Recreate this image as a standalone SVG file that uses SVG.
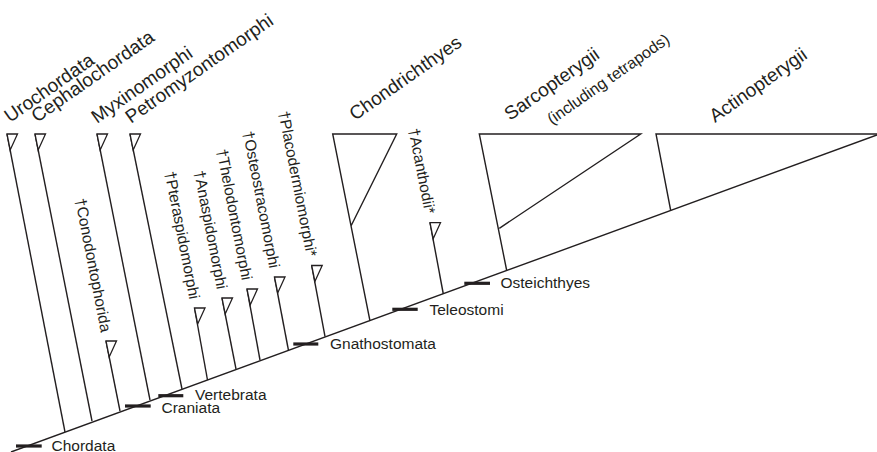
<svg xmlns="http://www.w3.org/2000/svg" width="877" height="452" viewBox="0 0 877 452">
<defs>
<style>
.ln{stroke:#231f20;stroke-width:1.4;fill:none;stroke-linecap:butt}
.tri{stroke:#231f20;stroke-width:1.3;fill:#fff;stroke-linejoin:miter}
.bar{stroke:#231f20;stroke-width:3.2}
text{font-family:"Liberation Sans",Arial,sans-serif;fill:#231f20}
.top{font-size:19px}
.sub{font-size:16px}
.vert{font-size:15.5px;text-anchor:end}
.hz{font-size:15.5px}
</style>
<path id="flag" d="M0,0 H10.5 L3.2,16 Z" class="tri"/>
</defs>
<rect width="877" height="452" fill="#fff"/>
<g id="connectors">
<line class="ln" x1="11" y1="452" x2="877" y2="135"/>
</g>
<g id="urochordata">
<line class="ln" x1="7" y1="134" x2="65" y2="432"/>
<use href="#flag" x="7" y="134"/>
<text class="top" transform="translate(10,123) rotate(-35)">Urochordata</text>
</g>
<g id="cephalochordata">
<line class="ln" x1="35" y1="134" x2="92" y2="421"/>
<use href="#flag" x="35" y="134"/>
<text class="top" transform="translate(37,123) rotate(-35)">Cephalochordata</text>
</g>
<g id="conodontophorida">
<line class="ln" x1="106" y1="341" x2="120" y2="411"/>
<use href="#flag" x="106" y="341"/>
<text class="vert" transform="translate(101,333) rotate(79)">†Conodontophorida</text>
</g>
<g id="myxinomorphi">
<line class="ln" x1="97" y1="134" x2="150" y2="400"/>
<use href="#flag" x="97" y="134"/>
<text class="top" transform="translate(97,124) rotate(-35)">Myxinomorphi</text>
</g>
<g id="petromyzontomorphi">
<line class="ln" x1="130" y1="134" x2="182" y2="389"/>
<use href="#flag" x="130" y="134"/>
<text class="top" transform="translate(131,124) rotate(-35)">Petromyzontomorphi</text>
</g>
<g id="pteraspidomorphi">
<line class="ln" x1="194.5" y1="308" x2="207.5" y2="380"/>
<use href="#flag" x="194.5" y="308"/>
<text class="vert" transform="translate(189.5,300) rotate(79)">†Pteraspidomorphi</text>
</g>
<g id="anaspidomorphi">
<line class="ln" x1="222" y1="298" x2="236" y2="369"/>
<use href="#flag" x="222" y="298"/>
<text class="vert" transform="translate(217,290) rotate(79)">†Anaspidomorphi</text>
</g>
<g id="thelodontomorphi">
<line class="ln" x1="247" y1="289" x2="260" y2="360"/>
<use href="#flag" x="247" y="289"/>
<text class="vert" transform="translate(242,281) rotate(79)">†Thelodontomorphi</text>
</g>
<g id="osteostracomorphi">
<line class="ln" x1="274.5" y1="277" x2="288.5" y2="350.5"/>
<use href="#flag" x="274.5" y="277"/>
<text class="vert" transform="translate(269.5,269) rotate(79)">†Osteostracomorphi</text>
</g>
<g id="placodermiomorphi">
<line class="ln" x1="311.7" y1="265.5" x2="325" y2="336.5"/>
<use href="#flag" x="311.7" y="265.5"/>
<text class="vert" transform="translate(306.7,257.5) rotate(79)">†Placodermiomorphi*</text>
</g>
<g id="chondrichthyes">
<path class="ln" d="M370,321 L332.7,134 H396.7 L351,226"/>
<text class="top" transform="translate(355,121) rotate(-35)">Chondrichthyes</text>
</g>
<g id="acanthodii">
<line class="ln" x1="430" y1="222.7" x2="443.3" y2="294"/>
<use href="#flag" x="430" y="222.7"/>
<text class="vert" transform="translate(425,214.7) rotate(79)">†Acanthodii*</text>
</g>
<g id="sarcopterygii">
<path class="ln" d="M506.7,270.5 L479.3,134 H640.7 L499.3,228.3"/>
<text class="top" transform="translate(510,121) rotate(-35)">Sarcopterygii</text>
<text class="sub" transform="translate(552,125) rotate(-35)">(including tetrapods)</text>
</g>
<g id="actinopterygii">
<path class="ln" d="M670.7,210.5 L656,134 H877"/>
<text class="top" transform="translate(715,123) rotate(-35)">Actinopterygii</text>
</g>
<g id="chordata">
<line class="bar" x1="16" y1="446" x2="41.7" y2="446"/>
<text class="hz" x="51.5" y="450.5">Chordata</text>
</g>
<g id="craniata">
<line class="bar" x1="125" y1="406" x2="150.7" y2="406"/>
<text class="hz" x="161.5" y="413">Craniata</text>
</g>
<g id="vertebrata">
<line class="bar" x1="158.3" y1="395.7" x2="183.3" y2="395.7"/>
<text class="hz" x="195" y="400">Vertebrata</text>
</g>
<g id="gnathostomata">
<line class="bar" x1="293.3" y1="344" x2="318.3" y2="344"/>
<text class="hz" x="330" y="349">Gnathostomata</text>
</g>
<g id="teleostomi">
<line class="bar" x1="392.3" y1="309.3" x2="417.7" y2="309.3"/>
<text class="hz" x="429.5" y="315">Teleostomi</text>
</g>
<g id="osteichthyes">
<line class="bar" x1="464.3" y1="283.3" x2="490" y2="283.3"/>
<text class="hz" x="500.5" y="288">Osteichthyes</text>
</g>
</svg>
